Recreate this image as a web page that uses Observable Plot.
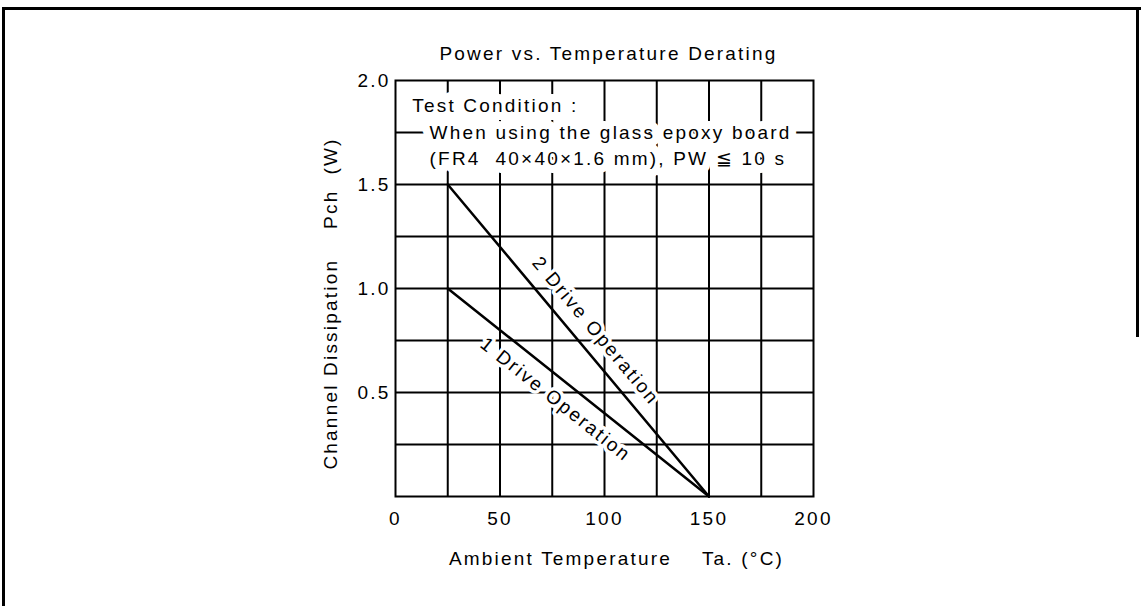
<!DOCTYPE html>
<html><head><meta charset="utf-8">
<script src="https://cdn.jsdelivr.net/npm/d3@7"></script>
<script src="https://cdn.jsdelivr.net/npm/@observablehq/plot@0.6"></script>
<style>
html,body{margin:0;padding:0;background:#fff;}
#wrap{position:relative;width:1141px;height:606px;overflow:hidden;background:#fff;}
#wrap svg{position:absolute;left:0;top:0;background:transparent;}
#wrap svg text{letter-spacing:2.2px;}
#bl{position:absolute;left:2px;top:7px;width:1200px;height:700px;border-left:3px solid #000;border-top:3px solid #000;}
#br{position:absolute;left:1136px;top:7px;width:3px;height:330px;background:#000;}
</style></head><body><div id="wrap"></div>
<script>
// Data
const temps = [25, 150];
const drive2 = [1.5, 0];
const drive1 = [1.0, 0];
const xTicks = [0, 50, 100, 150, 200];
const yTicks = [0.5, 1.0, 1.5, 2.0];
const xGrid = [25, 50, 75, 100, 125, 150, 175];
const yGrid = [0.25, 0.5, 0.75, 1.0, 1.25, 1.5, 1.75];
const noteLines = ["Test Condition :", "When using the glass epoxy board", "(FR4\u00a0\u00a040×40×1.6 mm), PW ≦ 10 s"];
const noteX = [8, 16.3, 16.3];
const noteY = [1.88, 1.75, 1.625];
const seriesLabels = ["2 Drive Operation", "1 Drive Operation"];
const labelX = [94.3, 76.6];
const labelY = [0.784, 0.466];
const titleText = "Power vs. Temperature Derating";
const xLabel = "Ambient Temperature\u00a0\u00a0\u00a0\u00a0Ta. (°C)";
const yLabel = "Channel Dissipation\u00a0\u00a0\u00a0\u00a0Pch\u00a0\u00a0(W)";

const W = 1141, H = 606;
const mL = 395, mR = 328, mT = 80, mB = 110;
const pw = W - mL - mR, ph = H - mT - mB;
const xDom = [0, 200], yDom = [0, 2];
const ang = (ys) => Math.atan2((ys[0] - ys[1]) * ph / (yDom[1] - yDom[0]), (temps[1] - temps[0]) * pw / (xDom[1] - xDom[0])) * 180 / Math.PI;

const d2 = temps.map((t, i) => ({t, p: drive2[i]}));
const d1 = temps.map((t, i) => ({t, p: drive1[i]}));
const notes = noteLines.map((s, i) => ({s, x: noteX[i], y: noteY[i]}));

const fs = 19;
const font = "Liberation Sans, Arial, sans-serif";
const a2 = ang(drive2), a1 = ang(drive1);
const rad = Math.PI / 180;
const chart = Plot.plot({
  width: W, height: H,
  marginLeft: mL, marginRight: mR, marginTop: mT, marginBottom: mB,
  style: {fontFamily: font, fontSize: fs + "px", color: "#000", background: "transparent"},
  x: {domain: xDom},
  y: {domain: yDom},
  marks: [
    Plot.gridX(xGrid, {stroke: "#000", strokeOpacity: 1, strokeWidth: 2}),
    Plot.gridY(yGrid, {stroke: "#000", strokeOpacity: 1, strokeWidth: 2}),
    Plot.axisX({ticks: xTicks, tickSize: 0, tickPadding: 15, fontSize: fs, label: null, tickFormat: d => String(d)}),
    Plot.axisY({ticks: yTicks, tickSize: 0, tickPadding: 5, fontSize: fs, label: null, tickFormat: d3.format(".1f")}),
    Plot.text(notes, {x: "x", y: "y", text: "s", textAnchor: "start", lineAnchor: "middle", fontSize: fs, fill: "#000", stroke: "#fff", strokeWidth: 16}),
    Plot.text([seriesLabels[0]], {x: labelX[0], y: labelY[0], dx: 4 * Math.sin(a2 * rad), dy: -4 * Math.cos(a2 * rad), text: d => d, rotate: a2, textAnchor: "middle", lineAnchor: "middle", fontSize: fs, fill: "#000", stroke: "#fff", strokeWidth: 7}),
    Plot.text([seriesLabels[1]], {x: labelX[1], y: labelY[1], text: d => d, rotate: a1, textAnchor: "middle", lineAnchor: "middle", fontSize: fs, fill: "#000", stroke: "#fff", strokeWidth: 7}),
    Plot.frame({stroke: "#000", strokeWidth: 2}),
    Plot.line(d2, {x: "t", y: "p", stroke: "#000", strokeWidth: 2.5}),
    Plot.line(d1, {x: "t", y: "p", stroke: "#000", strokeWidth: 2.5}),
    Plot.text([titleText], {frameAnchor: "top", dy: -27, dx: 4, text: d => d, fontSize: fs, lineAnchor: "middle", fill: "#000"}),
    Plot.text([xLabel], {frameAnchor: "bottom", dy: 62, dx: 12, text: d => d, fontSize: fs, lineAnchor: "middle", fill: "#000"}),
    Plot.text([yLabel], {frameAnchor: "left", dx: -65, dy: 15, rotate: -90, textAnchor: "middle", text: d => d, fontSize: fs, lineAnchor: "middle", fill: "#000"})
  ]
});
const wrap = document.getElementById("wrap");
wrap.appendChild(chart);
const bl = document.createElement("div"); bl.id = "bl"; wrap.appendChild(bl);
const br = document.createElement("div"); br.id = "br"; wrap.appendChild(br);
</script></body></html>
